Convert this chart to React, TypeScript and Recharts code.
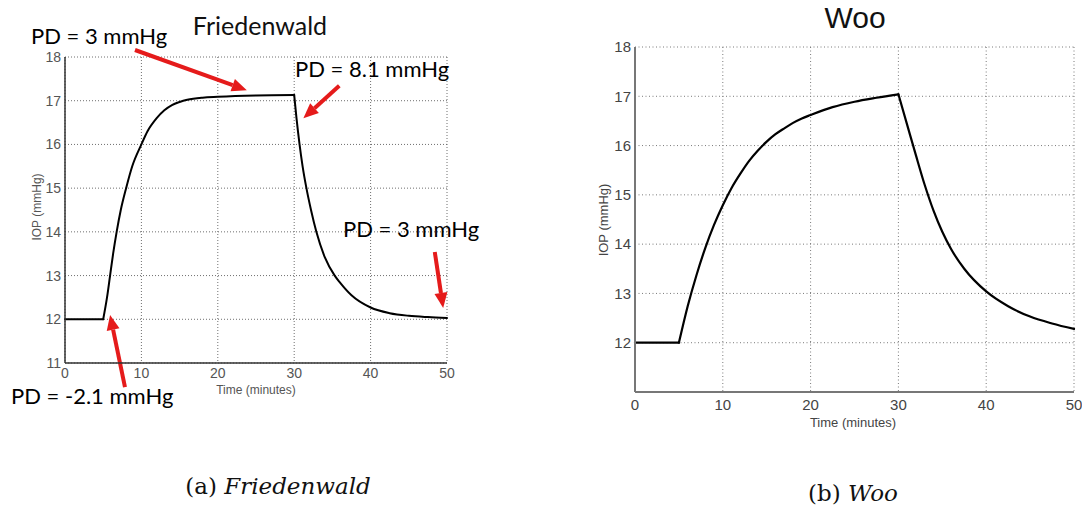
import { LineChart, Line, XAxis, YAxis, CartesianGrid, ReferenceLine } from 'recharts';

// (a) Friedenwald model
const friedenwaldTime = [0, 5, 5.5, 5.9, 6.3, 6.76, 7.3, 8, 8.8, 10, 10.8, 12, 13, 14, 15, 16, 18, 20, 25, 30, 30.3, 30.7, 31.1, 31.6, 32.2, 32.9, 34, 35.3, 36, 37.5, 40, 42.5, 45, 47.5, 50];
const friedenwaldIop = [12, 12, 12.5, 13, 13.5, 14, 14.5, 15, 15.5, 16, 16.3, 16.6, 16.78, 16.9, 16.97, 17.02, 17.07, 17.09, 17.12, 17.13, 16.6, 16, 15.5, 15, 14.5, 14, 13.42, 13, 12.84, 12.55, 12.27, 12.14, 12.08, 12.05, 12.03];

// (b) Woo model
const wooTime = [0, 5, 6, 7, 8, 9, 10, 11, 12, 13, 14, 15, 16, 17, 18, 19, 20, 22.5, 25, 27.5, 30, 31, 32, 33, 34, 35, 36, 37.5, 40, 42.5, 45, 47.5, 50];
const wooIop = [12, 12, 12.74, 13.37, 13.92, 14.39, 14.79, 15.14, 15.43, 15.69, 15.9, 16.08, 16.23, 16.35, 16.46, 16.55, 16.62, 16.78, 16.89, 16.97, 17.04, 16.42, 15.8, 15.2, 14.68, 14.25, 13.9, 13.5, 13.04, 12.74, 12.53, 12.39, 12.28];

// pressure steps happen at these times (curve has corners there)
const phaseBreaks = [0, 5, 30, 50];

const timeTicks = [0, 10, 20, 30, 40, 50];
const leftIopTicks = [11, 12, 13, 14, 15, 16, 17, 18];
const rightIopTicks = [12, 13, 14, 15, 16, 17, 18];

// arrow annotations on the Friedenwald plot (data units: tail -> head)
const arrowLabels = ['PD = 3 mmHg', 'PD = 8.1 mmHg', 'PD = 3 mmHg', 'PD = -2.1 mmHg'];
const arrowFromX = [9.16, 35.9, 48.4, 7.85];
const arrowFromY = [18.16, 17.34, 13.54, 10.45];
const arrowToX = [23.8, 31.2, 49.5, 5.9];
const arrowToY = [17.24, 16.6, 12.26, 12.1];

// split a curve into phases so the smoothing keeps the sharp corners
function phases(time: number[], iop: number[]) {
  const rows = time.map((t, i) => ({ t, iop: iop[i] }));
  return phaseBreaks.slice(1).map((end, k) => rows.filter(r => r.t >= phaseBreaks[k] && r.t <= end));
}

const friedenwaldPhases = phases(friedenwaldTime, friedenwaldIop);
const wooPhases = phases(wooTime, wooIop);

const RED = '#e51b1b';

function Arrow(props: any) {
  const { x1, y1, x2, y2 } = props;
  const a = Math.atan2(y2 - y1, x2 - x1);
  const len = 15;
  const half = 6.5;
  const bx = x2 - len * Math.cos(a);
  const by = y2 - len * Math.sin(a);
  const px = -Math.sin(a) * half;
  const py = Math.cos(a) * half;
  return (
    <g>
      <line x1={x1} y1={y1} x2={bx} y2={by} stroke={RED} strokeWidth={4} />
      <polygon points={`${x2},${y2} ${bx + px},${by + py} ${bx - px},${by - py}`} fill={RED} />
    </g>
  );
}

export default function App() {
  const tickFont = 'Liberation Sans, Arial, sans-serif';
  return (
    <div style={{ position: 'absolute', left: 0, top: 0, width: 1082, height: 512, background: '#fff', overflow: 'hidden' }}>
      <div style={{ position: 'absolute', left: 0, top: 0 }}>
        <LineChart width={540} height={420} margin={{ top: 57, right: 93, left: 25, bottom: 27 }}>
          <CartesianGrid stroke="#6f6f6f" strokeWidth={1} strokeDasharray="1 2" />
          <XAxis
            dataKey="t"
            type="number"
            domain={[0, 50]}
            ticks={timeTicks}
            interval={0}
            height={30}
            tickLine={false}
            tickSize={3}
            tickMargin={2}
            stroke="#333"
            strokeWidth={1.5}
            tick={{ fontSize: 14, fill: '#555', fontFamily: tickFont }}
          />
          <YAxis
            type="number"
            domain={[11, 18]}
            ticks={leftIopTicks}
            interval={0}
            width={40}
            tickLine={false}
            tickSize={2}
            tickMargin={2}
            stroke="#333"
            strokeWidth={1.5}
            tick={{ fontSize: 14, fill: '#555', fontFamily: tickFont }}
          />
          {friedenwaldPhases.map((seg, k) => (
            <Line key={`f-${k}`} data={seg} dataKey="iop" type="monotone" stroke="#000" strokeWidth={2} strokeLinecap="round" dot={false} isAnimationActive={false} />
          ))}
          {arrowLabels.map((lab, i) => (
            <ReferenceLine
              key={`arrow-${i}`}
              segment={[{ x: arrowFromX[i], y: arrowFromY[i] }, { x: arrowToX[i], y: arrowToY[i] }]}
              ifOverflow="visible"
              shape={Arrow}
            />
          ))}
        </LineChart>
      </div>

      <div style={{ position: 'absolute', left: 560, top: 0 }}>
        <LineChart width={522} height={440} margin={{ top: 47, right: 8, left: 35, bottom: 18 }}>
          <CartesianGrid stroke="#7a7a7a" strokeWidth={1} strokeDasharray="1 2.5" />
          <XAxis
            dataKey="t"
            type="number"
            domain={[0, 50]}
            ticks={timeTicks}
            interval={0}
            height={30}
            tickLine={false}
            tickSize={4}
            tickMargin={3}
            stroke="#777"
            strokeWidth={2}
            tick={{ fontSize: 15, fill: '#444', fontFamily: tickFont }}
          />
          <YAxis
            type="number"
            domain={[11, 18]}
            ticks={rightIopTicks}
            interval={0}
            width={40}
            tickLine={false}
            tickSize={2}
            tickMargin={2}
            stroke="#777"
            strokeWidth={2}
            tick={{ fontSize: 15, fill: '#444', fontFamily: tickFont }}
          />
          {wooPhases.map((seg, k) => (
            <Line key={`w-${k}`} data={seg} dataKey="iop" type="monotone" stroke="#000" strokeWidth={2.2} strokeLinecap="round" dot={false} isAnimationActive={false} />
          ))}
        </LineChart>
      </div>

      <svg width={1082} height={512} style={{ position: 'absolute', left: 0, top: 0, pointerEvents: 'none' }}>
        {/* titles */}
        <text x={260} y={35} textAnchor="middle" fontFamily="Lato, sans-serif" fontSize={25} fill="#111">Friedenwald</text>
        <text x={855} y={28} textAnchor="middle" fontFamily={tickFont} fontSize={30} fill="#111">Woo</text>

        {/* annotation texts */}
        <g fontFamily="Lato, sans-serif" fontSize={22} fill="#000">
          <text x={31} y={44}>{arrowLabels[0]}</text>
          <text x={295} y={77}>{arrowLabels[1]}</text>
          <text x={343} y={237}>{arrowLabels[2]}</text>
          <text x={11} y={404}>{arrowLabels[3]}</text>
        </g>

        {/* axis titles */}
        <text x={256} y={394} textAnchor="middle" fontFamily={tickFont} fontSize={12} fill="#555">Time (minutes)</text>
        <text x={41} y={207} textAnchor="middle" fontFamily={tickFont} fontSize={12} fill="#555" transform="rotate(-90 41 207)">IOP (mmHg)</text>
        <text x={853} y={427} textAnchor="middle" fontFamily={tickFont} fontSize={13} fill="#444">Time (minutes)</text>
        <text x={608} y={220} textAnchor="middle" fontFamily={tickFont} fontSize={13} fill="#444" transform="rotate(-90 608 220)">IOP (mmHg)</text>

        {/* sub-figure captions */}
        <text x={278} y={494} textAnchor="middle" fontFamily="DejaVu Serif, serif" fontSize={23} fill="#111">
          (a) <tspan fontStyle="italic">Friedenwald</tspan>
        </text>
        <text x={853} y={501} textAnchor="middle" fontFamily="DejaVu Serif, serif" fontSize={23} fill="#111">
          (b) <tspan fontStyle="italic">Woo</tspan>
        </text>
      </svg>
    </div>
  );
}
